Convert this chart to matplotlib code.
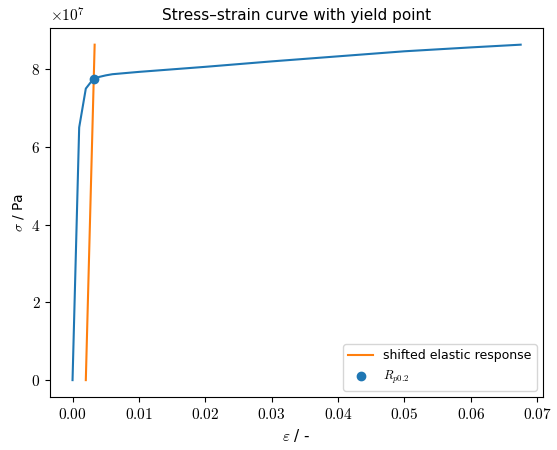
import matplotlib
matplotlib.use("Agg")
import matplotlib.pyplot as plt
import matplotlib.ticker as mt

plt.rcParams['mathtext.fontset'] = 'cm'
plt.rcParams['axes.formatter.use_mathtext'] = True
plt.rcParams['xtick.labelsize'] = 11
plt.rcParams['ytick.labelsize'] = 11

strain = [0.0, 0.001, 0.002, 0.003, 0.004, 0.005, 0.006, 0.008, 0.01, 0.02, 0.03, 0.04, 0.05, 0.06, 0.0675]
stress = [0.0, 6.5e7, 7.5e7, 7.72e7, 7.8e7, 7.84e7, 7.87e7, 7.9e7, 7.93e7, 8.06e7, 8.2e7, 8.33e7, 8.46e7, 8.56e7, 8.63e7]
elastic_x = [0.002, 0.00333]
elastic_y = [0.0, 8.63e7]
yield_x = [0.0032]
yield_y = [7.75e7]

fig, ax = plt.subplots(figsize=(5.57, 4.5), dpi=100)
ax.plot(strain, stress, color='#1f77b4')
ax.plot(elastic_x, elastic_y, color='#ff7f0e', label='shifted elastic response')
ax.scatter(yield_x, yield_y, color='#1f77b4', zorder=3, label=r'$R_{p0.2}$')
ax.set_title('Stress–strain curve with yield point', fontsize=11)
ax.set_xlabel(r'$\varepsilon$ / -', fontsize=11)
ax.set_ylabel(r'$\sigma$ / Pa', fontsize=10)
fmt = mt.FuncFormatter(lambda v, p: r'$%.2f$' % v)
ax.xaxis.set_major_formatter(fmt)
ax.set_yticks([0, 2e7, 4e7, 6e7, 8e7])
ax.set_yticklabels([r'$0$', r'$2$', r'$4$', r'$6$', r'$8$'])
ax.text(0, 1.01, r'$\times10^{7}$', transform=ax.transAxes, ha='left', va='bottom', fontsize=11)
ax.legend(loc='lower right', fontsize=9)
fig.subplots_adjust(left=0.09, right=0.975, top=0.938, bottom=0.118)
fig.savefig('out.png')
